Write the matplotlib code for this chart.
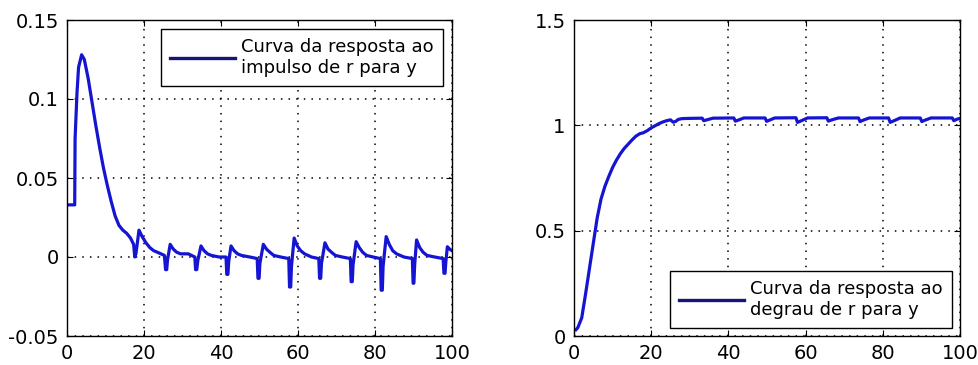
import matplotlib
matplotlib.use("Agg")
import matplotlib.pyplot as plt
from matplotlib.lines import Line2D

# ---- data ----
imp_t = [0.5, 2.0, 2.1, 2.6, 3.0, 3.8, 4.5, 5.5, 6.5, 7.5, 8.5, 9.5, 10.5, 11.5,
         12.5, 13.5, 14.5, 15.5, 16.5, 17.3, 17.6, 17.9, 18.7, 19.5, 20.5, 21.5,
         22.5, 23.5, 25.3,
         25.6, 25.9, 26.1, 26.8, 27.6, 28.5, 29.5, 31.5, 33.2,
         33.4, 33.7, 34.0, 34.8, 35.6, 36.5, 37.5, 39.5, 41.3,
         41.5, 41.8, 42.0, 42.6, 43.4, 44.3, 45.3, 47.5, 49.4,
         49.6, 49.9, 50.1, 51.0, 51.8, 52.7, 53.7, 55.5, 57.6,
         57.8, 58.1, 58.3, 59.0, 59.8, 60.7, 61.7, 63.5, 65.4,
         65.6, 65.9, 66.1, 67.0, 67.8, 68.7, 69.7, 71.5, 73.6,
         73.8, 74.1, 74.3, 75.1, 75.9, 76.8, 77.8, 79.5, 81.4,
         81.6, 81.9, 82.1, 82.9, 83.7, 84.6, 85.6, 87.5, 89.7,
         89.9, 90.1, 90.3, 90.8, 91.6, 92.5, 93.5, 95.5, 97.7,
         97.9, 98.2, 98.4, 98.8, 99.4, 100.0]
imp_y = [0.033, 0.033, 0.075, 0.104, 0.120, 0.128, 0.125, 0.113, 0.098, 0.083,
         0.069, 0.056, 0.045, 0.035, 0.026, 0.020, 0.017, 0.015, 0.012, 0.008,
         0.000, 0.002, 0.017, 0.013, 0.009, 0.006, 0.004, 0.003, 0.001,
         -0.008, -0.008, -0.002, 0.008, 0.005, 0.003, 0.002, 0.002, 0.000,
         -0.008, -0.008, -0.002, 0.007, 0.004, 0.002, 0.001, 0.000, 0.000,
         -0.011, -0.011, -0.003, 0.007, 0.004, 0.002, 0.001, 0.000, -0.001,
         -0.0135, -0.0135, -0.004, 0.008, 0.005, 0.003, 0.001, 0.000, -0.001,
         -0.019, -0.019, -0.006, 0.012, 0.007, 0.004, 0.002, 0.000, -0.001,
         -0.0135, -0.0135, -0.004, 0.009, 0.005, 0.003, 0.001, 0.000, -0.001,
         -0.0156, -0.0156, -0.005, 0.0097, 0.006, 0.003, 0.001, 0.000, -0.001,
         -0.021, -0.021, -0.006, 0.0129, 0.008, 0.004, 0.002, 0.000, -0.001,
         -0.0166, -0.0166, -0.005, 0.0108, 0.006, 0.003, 0.001, 0.000, -0.001,
         -0.0103, -0.0103, -0.003, 0.0065, 0.005, 0.004]

step_t = [0.5, 1, 2, 3, 4, 5, 6, 7, 8, 9, 10, 11, 12, 13, 14, 15, 16, 17, 18, 19,
          20, 21, 22, 23, 24, 25, 25.7, 26.3, 27, 28, 30,
          33.2, 33.6, 34.4, 36,
          41.4, 41.8, 42.6, 44,
          49.5, 49.9, 50.7, 52,
          57.5, 57.9, 58.8, 60.5,
          65.5, 65.9, 66.8, 68.5,
          73.7, 74.1, 75.0, 76.5,
          81.5, 81.9, 82.8, 84.5,
          89.7, 90.1, 91.0, 92.5,
          98.0, 98.4, 99.2, 100]
step_y = [0.03, 0.04, 0.086, 0.20, 0.32, 0.44, 0.56, 0.65, 0.71, 0.757, 0.80,
          0.835, 0.865, 0.89, 0.91, 0.93, 0.948, 0.96, 0.965, 0.975, 0.988,
          0.998, 1.008, 1.016, 1.022, 1.026, 1.015, 1.018, 1.028, 1.032, 1.033,
          1.034, 1.022, 1.026, 1.034,
          1.035, 1.020, 1.025, 1.035,
          1.035, 1.019, 1.025, 1.035,
          1.036, 1.014, 1.021, 1.035,
          1.036, 1.020, 1.026, 1.035,
          1.035, 1.018, 1.025, 1.035,
          1.035, 1.014, 1.021, 1.035,
          1.035, 1.018, 1.025, 1.035,
          1.035, 1.022, 1.029, 1.033]

x_ticks = [0, 20, 40, 60, 80, 100]
left_yticks = [-0.05, 0, 0.05, 0.1, 0.15]
left_ylabels = ["-0.05", "0", "0.05", "0.1", "0.15"]
right_yticks = [0, 0.5, 1, 1.5]
right_ylabels = ["0", "0.5", "1", "1.5"]
label_imp = "Curva da resposta ao\nimpulso de r para y"
label_step = "Curva da resposta ao\ndegrau de r para y"

# ---- style ----
plt.rcParams['font.family'] = ['DejaVu Sans']
LINE_C = '#1414d2'
LEG_C = '#14147a'
W, H = 979, 365
fig = plt.figure(figsize=(W / 100, H / 100), dpi=100)

def box(l, t, r, b):
    return [l / W, (H - b) / H, (r - l) / W, (b - t) / H]

ax1 = fig.add_axes(box(67, 20, 452, 336))
ax2 = fig.add_axes(box(574, 20, 960, 336))

def style(ax, yticks, ylabels, ylim):
    ax.set_xlim(0, 100)
    ax.set_ylim(*ylim)
    ax.set_xticks(x_ticks)
    ax.set_xticklabels([str(v) for v in x_ticks])
    ax.set_yticks(yticks)
    ax.set_yticklabels(ylabels)
    ax.tick_params(direction='in', length=4, width=0.8, top=True, right=True,
                   labelsize=14, pad=6, colors='black')
    ax.grid(True, color='black', linestyle=(0, (1, 4)), linewidth=1.1)
    for s in ax.spines.values():
        s.set_linewidth(1.0)
        s.set_color('black')
    ax.set_axisbelow(True)

def legend(ax, label, loc, bap):
    h = Line2D([], [], color=LEG_C, linewidth=2.4)
    leg = ax.legend([h], [label], loc=loc, fontsize=13,
                    frameon=True, fancybox=False, framealpha=1, edgecolor='black',
                    handlelength=3.6, handletextpad=0.35, borderpad=0.5,
                    borderaxespad=bap)
    leg.get_frame().set_linewidth(1.0)

ax1.plot(imp_t, imp_y, color=LINE_C, linewidth=2.3)
style(ax1, left_yticks, left_ylabels, (-0.05, 0.15))
legend(ax1, label_imp, 'upper right', 0.5)

ax2.plot(step_t, step_y, color=LINE_C, linewidth=2.3)
style(ax2, right_yticks, right_ylabels, (0, 1.5))
legend(ax2, label_step, 'lower right', 0.45)

fig.savefig('out.png', dpi=100)
